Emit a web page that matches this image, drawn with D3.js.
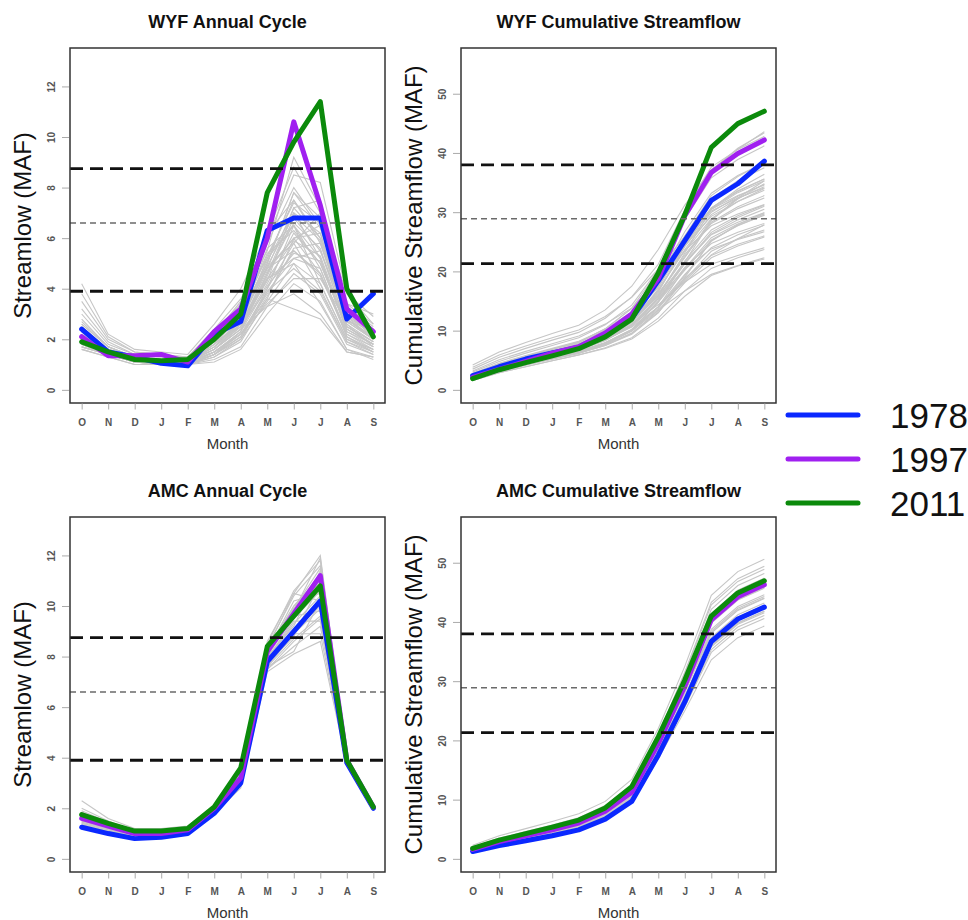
<!DOCTYPE html>
<html>
<head>
<meta charset="utf-8">
<script src="https://cdn.jsdelivr.net/npm/d3@7"></script>
<style>
  body { margin: 0; background: #fff; }
  svg { font-family: "Liberation Sans", Arial, Helvetica, sans-serif; }
</style>
</head>
<body>
<div id="chart"></div>
<script>

// month axis and legend
var months = ["O", "N", "D", "J", "F", "M", "A", "M", "J", "J", "A", "S"];
var years = ["1978", "1997", "2011"];
var yearColors = ["#0a28ff", "#a020f0", "#0b8a0b"];

// WYF monthly streamflow (MAF), highlighted years
var wyf1978 = [2.4, 1.5, 1.3, 1.05, 0.95, 2.2, 2.7, 6.3, 6.8, 6.8, 2.8, 3.8];
var wyf1997 = [2.1, 1.35, 1.35, 1.4, 1.1, 2.3, 3.2, 6.0, 10.6, 7.3, 3.2, 2.3];
var wyf2011 = [1.9, 1.5, 1.2, 1.15, 1.2, 2.0, 3.0, 7.8, 9.8, 11.4, 4.0, 2.1];

// WYF ensemble (grey traces)
var wyfEnsemble = [
  [4.2, 2.2, 1.6, 1.5, 1.4, 2.6, 4.0, 6.2, 7.5, 6.0, 3.4, 3.0],
  [3.5, 2.0, 1.5, 1.4, 1.3, 2.4, 3.6, 5.5, 9.2, 7.2, 3.0, 2.2],
  [3.0, 1.8, 1.4, 1.3, 1.3, 2.2, 3.3, 6.0, 8.5, 8.2, 3.8, 2.6],
  [2.8, 1.7, 1.3, 1.2, 1.2, 2.0, 3.0, 5.0, 7.8, 6.8, 3.2, 2.4],
  [2.5, 1.6, 1.3, 1.2, 1.2, 1.9, 2.8, 4.8, 7.2, 6.0, 2.8, 2.0],
  [2.2, 1.5, 1.2, 1.1, 1.1, 1.8, 2.6, 4.5, 6.8, 5.5, 2.6, 1.9],
  [2.0, 1.5, 1.2, 1.1, 1.1, 1.6, 2.4, 4.2, 6.2, 5.0, 2.4, 1.8],
  [1.8, 1.4, 1.1, 1.1, 1.1, 1.5, 2.2, 3.8, 5.5, 4.5, 2.2, 1.6],
  [1.7, 1.4, 1.1, 1.0, 1.0, 1.4, 2.0, 3.5, 5.0, 4.2, 2.0, 1.5],
  [1.6, 1.3, 1.0, 1.0, 1.0, 1.2, 1.7, 3.3, 4.6, 3.8, 1.8, 1.4],
  [1.6, 1.3, 1.0, 1.0, 1.0, 1.1, 1.6, 3.0, 4.2, 3.5, 1.6, 1.2],
  [2.4, 1.6, 1.3, 1.2, 1.2, 2.1, 3.1, 5.8, 8.0, 6.5, 3.0, 2.1],
  [2.1, 1.5, 1.2, 1.2, 1.1, 1.7, 2.7, 5.2, 7.5, 5.8, 2.7, 2.0],
  [1.9, 1.5, 1.2, 1.1, 1.1, 1.8, 2.9, 4.8, 6.0, 6.5, 3.4, 2.6],
  [2.6, 1.7, 1.3, 1.2, 1.2, 2.3, 3.4, 5.2, 6.5, 4.8, 2.2, 1.7],
  [2.3, 1.6, 1.2, 1.2, 1.1, 1.9, 2.5, 4.0, 5.8, 7.0, 3.8, 2.9],
  [1.8, 1.4, 1.1, 1.1, 1.0, 1.5, 2.3, 4.6, 7.0, 5.2, 2.4, 1.8],
  [2.0, 1.5, 1.2, 1.1, 1.1, 1.7, 2.8, 5.6, 6.5, 4.2, 2.0, 1.6],
  [3.2, 1.9, 1.4, 1.3, 1.3, 2.0, 2.7, 4.4, 5.2, 5.5, 2.9, 2.2],
  [1.7, 1.4, 1.1, 1.0, 1.0, 1.3, 1.9, 3.6, 6.0, 6.2, 2.6, 1.7],
  [2.2, 1.5, 1.2, 1.1, 1.1, 1.6, 2.4, 3.3, 3.8, 3.0, 1.5, 1.3],
  [1.9, 1.4, 1.1, 1.1, 1.0, 1.4, 2.1, 4.0, 6.5, 5.2, 2.3, 1.7],
  [2.7, 1.7, 1.3, 1.2, 1.2, 2.2, 3.5, 6.2, 8.8, 7.0, 3.1, 2.3],
  [2.0, 1.5, 1.2, 1.1, 1.1, 1.6, 2.5, 4.4, 5.0, 3.4, 1.6, 1.3],
  [2.3, 1.6, 1.2, 1.1, 1.1, 1.7, 2.6, 4.3, 7.2, 7.5, 3.3, 2.5],
  [1.8, 1.4, 1.1, 1.0, 1.0, 1.4, 2.3, 4.9, 5.8, 4.0, 1.9, 1.5],
  [2.5, 1.6, 1.3, 1.2, 1.1, 1.9, 3.0, 5.4, 6.3, 5.0, 2.5, 1.9],
  [2.0, 1.5, 1.2, 1.1, 1.1, 1.5, 2.2, 3.4, 4.4, 4.4, 2.7, 2.4],
  [3.8, 2.1, 1.5, 1.4, 1.3, 2.3, 3.2, 4.8, 5.5, 4.6, 2.3, 1.8],
  [2.1, 1.5, 1.2, 1.1, 1.1, 1.8, 2.7, 5.0, 7.8, 6.4, 2.9, 2.0],
  [1.8, 1.4, 1.1, 1.0, 1.0, 1.4, 2.2, 3.6, 3.2, 2.8, 1.5, 1.3],
  [2.2, 1.5, 1.2, 1.1, 1.1, 1.7, 2.5, 4.6, 6.6, 5.6, 2.5, 1.8],
  [1.9, 1.4, 1.2, 1.1, 1.1, 1.6, 2.6, 4.7, 6.0, 4.6, 2.1, 1.6],
  [2.4, 1.6, 1.3, 1.2, 1.1, 1.9, 2.9, 5.1, 7.0, 6.2, 2.8, 2.1],
  [2.0, 1.5, 1.2, 1.1, 1.1, 1.5, 2.3, 4.1, 5.4, 5.1, 2.4, 1.8],
  [1.7, 1.4, 1.1, 1.0, 1.0, 1.3, 2.0, 3.9, 5.2, 4.8, 2.1, 1.5],
  [2.6, 1.7, 1.3, 1.2, 1.2, 2.0, 3.0, 5.3, 7.4, 6.6, 3.0, 2.2],
  [2.1, 1.5, 1.2, 1.1, 1.1, 1.6, 2.4, 4.4, 5.9, 5.3, 2.5, 1.9],
  [1.8, 1.4, 1.1, 1.1, 1.0, 1.5, 2.2, 3.9, 4.8, 3.9, 1.9, 1.4],
  [2.3, 1.6, 1.2, 1.2, 1.1, 1.8, 2.7, 4.9, 6.9, 5.9, 2.7, 2.0],
  [1.9, 1.4, 1.1, 1.1, 1.0, 1.4, 2.1, 3.7, 5.6, 5.8, 2.8, 2.0]
];

// AMC monthly streamflow (MAF), highlighted years
var amc1978 = [1.25, 1.0, 0.8, 0.85, 1.0, 1.8, 3.0, 7.8, 9.0, 10.2, 3.8, 2.0];
var amc1997 = [1.6, 1.3, 1.0, 1.0, 1.15, 2.0, 3.2, 8.2, 9.7, 11.2, 3.9, 2.05];
var amc2011 = [1.75, 1.4, 1.1, 1.1, 1.2, 2.05, 3.6, 8.4, 9.6, 10.8, 3.9, 2.05];

// AMC ensemble (grey traces)
var amcEnsemble = [
  [2.3, 1.6, 1.2, 1.2, 1.3, 2.1, 3.7, 8.6, 10.5, 12.0, 4.0, 2.1],
  [2.0, 1.5, 1.1, 1.1, 1.25, 2.05, 3.5, 8.4, 10.4, 11.6, 3.95, 2.05],
  [1.8, 1.4, 1.05, 1.05, 1.2, 2.0, 3.4, 8.3, 10.0, 11.2, 3.9, 2.05],
  [1.6, 1.3, 1.0, 1.0, 1.15, 1.95, 3.3, 8.1, 9.6, 10.8, 3.9, 2.0],
  [1.5, 1.25, 0.95, 0.95, 1.1, 1.9, 3.2, 7.9, 9.3, 10.4, 3.85, 2.0],
  [1.4, 1.2, 0.9, 0.95, 1.1, 1.9, 3.1, 7.8, 9.0, 10.0, 3.85, 2.0],
  [1.3, 1.1, 0.9, 0.9, 1.05, 1.85, 3.0, 7.6, 8.7, 9.6, 3.8, 2.0],
  [1.25, 1.05, 0.85, 0.9, 1.0, 1.8, 2.9, 7.5, 8.4, 9.2, 3.8, 1.95],
  [1.2, 1.0, 0.85, 0.85, 1.0, 1.8, 2.8, 7.4, 8.1, 8.6, 3.75, 1.95],
  [1.9, 1.45, 1.1, 1.1, 1.2, 2.05, 3.6, 8.5, 10.6, 11.8, 4.0, 2.1],
  [1.7, 1.35, 1.05, 1.05, 1.2, 2.0, 3.45, 8.2, 9.9, 11.5, 3.95, 2.05],
  [1.6, 1.3, 1.0, 1.0, 1.15, 1.95, 3.3, 8.0, 9.2, 11.4, 3.9, 2.0],
  [1.55, 1.25, 1.0, 1.0, 1.15, 1.95, 3.25, 8.2, 10.2, 10.5, 3.9, 2.0],
  [1.45, 1.2, 0.95, 0.95, 1.1, 1.9, 3.15, 7.7, 8.8, 10.9, 3.85, 2.0],
  [1.35, 1.15, 0.9, 0.9, 1.05, 1.85, 3.05, 7.9, 9.4, 9.4, 3.85, 2.0],
  [1.65, 1.3, 1.0, 1.0, 1.15, 1.95, 3.35, 8.3, 10.5, 10.2, 3.9, 2.05],
  [1.4, 1.15, 0.9, 0.9, 1.05, 1.9, 3.1, 7.6, 8.9, 8.9, 3.8, 1.95],
  [1.85, 1.4, 1.05, 1.05, 1.2, 2.0, 3.5, 8.4, 9.8, 11.9, 4.0, 2.05],
  [1.5, 1.2, 0.95, 0.95, 1.1, 1.9, 3.2, 8.0, 9.6, 9.8, 3.85, 2.0],
  [1.3, 1.1, 0.9, 0.9, 1.05, 1.85, 2.95, 7.6, 8.2, 10.2, 3.8, 1.95],
  [1.45, 1.2, 0.95, 0.95, 1.1, 1.9, 3.2, 7.9, 9.5, 10.6, 3.85, 2.0],
  [1.7, 1.35, 1.05, 1.05, 1.15, 2.0, 3.4, 8.2, 9.9, 10.9, 3.9, 2.05],
  [1.35, 1.1, 0.9, 0.9, 1.05, 1.85, 3.0, 7.7, 8.9, 9.9, 3.8, 1.95],
  [1.55, 1.25, 1.0, 1.0, 1.15, 1.95, 3.3, 8.1, 9.7, 11.0, 3.9, 2.0],
  [1.25, 1.05, 0.85, 0.9, 1.0, 1.8, 2.9, 7.5, 8.6, 9.5, 3.8, 1.95],
  [1.6, 1.3, 1.0, 1.0, 1.15, 1.95, 3.35, 8.1, 10.0, 11.1, 3.9, 2.05]
];

// axis ticks and reference levels
var annualTicks = [0, 2, 4, 6, 8, 10, 12];
var cumulativeTicks = [0, 10, 20, 30, 40, 50];
var annualLevels = [3.9, 6.6, 8.75];
var cumulativeLevels = [21.3, 28.9, 38.0];


var width = 968;
var height = 920;

var svg = d3.select("#chart").append("svg")
    .attr("width", width)
    .attr("height", height);

function cumulative(v) { return Array.from(d3.cumsum(v)); }

var panels = [
    {title: "WYF Annual Cycle", ylab: "Streamlow (MAF)", left: 70, top: 48,
     ylim: [0, 13], ticks: annualTicks, levels: annualLevels,
     ensemble: wyfEnsemble, series: [wyf1978, wyf1997, wyf2011]},
    {title: "WYF Cumulative Streamflow", ylab: "Cumulative Streamflow (MAF)", left: 461, top: 48,
     ylim: [0, 55.5], ticks: cumulativeTicks, levels: cumulativeLevels,
     ensemble: wyfEnsemble.map(cumulative), series: [wyf1978, wyf1997, wyf2011].map(cumulative)},
    {title: "AMC Annual Cycle", ylab: "Streamlow (MAF)", left: 70, top: 517,
     ylim: [0, 13], ticks: annualTicks, levels: annualLevels,
     ensemble: amcEnsemble, series: [amc1978, amc1997, amc2011]},
    {title: "AMC Cumulative Streamflow", ylab: "Cumulative Streamflow (MAF)", left: 461, top: 517,
     ylim: [0, 55.5], ticks: cumulativeTicks, levels: cumulativeLevels,
     ensemble: amcEnsemble.map(cumulative), series: [amc1978, amc1997, amc2011].map(cumulative)}
];

var boxW = 315;
var boxH = 355;

panels.forEach(function (p) {
    var g = svg.append("g").attr("transform", "translate(" + p.left + "," + p.top + ")");

    // R style 4% axis extension
    var ext = (p.ylim[1] - p.ylim[0]) * 0.04;
    var xScale = d3.scaleLinear()
        .domain([-0.44, 11.44])
        .range([0, boxW]);
    var yScale = d3.scaleLinear()
        .domain([p.ylim[0] - ext, p.ylim[1] + ext])
        .range([boxH, 0]);

    var line = d3.line()
        .x(function (d, i) { return xScale(i); })
        .y(function (d) { return yScale(d); });

    g.selectAll("path.ens")
        .data(p.ensemble)
        .enter()
        .append("path")
        .attr("class", "ens")
        .attr("d", line)
        .attr("fill", "none")
        .attr("stroke", "#c6c6c6")
        .attr("stroke-width", 1.1);

    g.selectAll("path.yr")
        .data(p.series)
        .enter()
        .append("path")
        .attr("class", "yr")
        .attr("d", line)
        .attr("fill", "none")
        .attr("stroke", function (d, i) { return yearColors[i]; })
        .attr("stroke-width", 5)
        .attr("stroke-linejoin", "round")
        .attr("stroke-linecap", "round");

    // reference levels: outer two heavy dashes, middle light dash
    g.selectAll("line.level")
        .data(p.levels)
        .enter()
        .append("line")
        .attr("class", "level")
        .attr("x1", 0)
        .attr("x2", boxW)
        .attr("y1", function (d) { return yScale(d); })
        .attr("y2", function (d) { return yScale(d); })
        .attr("stroke", function (d, i) { return i === 1 ? "#6a6a6a" : "#111"; })
        .attr("stroke-width", function (d, i) { return i === 1 ? 1.6 : 2.8; })
        .attr("stroke-dasharray", function (d, i) { return i === 1 ? "6,4" : "13,7"; });

    g.append("rect")
        .attr("width", boxW)
        .attr("height", boxH)
        .attr("fill", "none")
        .attr("stroke", "#333")
        .attr("stroke-width", 1.5);

    var xAxis = d3.axisBottom(xScale)
        .tickValues(d3.range(months.length))
        .tickFormat(function (i) { return months[i]; })
        .tickSize(6)
        .tickPadding(9);

    var gx = g.append("g")
        .attr("transform", "translate(0," + (boxH + 0.5) + ")")
        .call(xAxis);
    gx.select(".domain").remove();
    gx.selectAll("line").attr("stroke", "#aaa");
    gx.selectAll("text")
        .attr("fill", "#555")
        .style("font-size", "10px")
        .style("font-weight", "bold")
        .style("font-family", "'Liberation Sans', Arial, sans-serif");

    var yAxis = d3.axisLeft(yScale)
        .tickValues(p.ticks)
        .tickSize(7);

    var gy = g.append("g")
        .attr("transform", "translate(-1,0)")
        .call(yAxis);
    gy.select(".domain").remove();
    gy.selectAll("line").attr("stroke", "#aaa");
    gy.selectAll("text")
        .attr("x", null)
        .attr("dy", null)
        .attr("transform", "translate(-14,0) rotate(-90)")
        .attr("text-anchor", "middle")
        .attr("fill", "#555")
        .style("font-size", "10px")
        .style("font-weight", "bold")
        .style("font-family", "'Liberation Sans', Arial, sans-serif");

    g.append("text")
        .attr("x", boxW / 2)
        .attr("y", -20)
        .attr("text-anchor", "middle")
        .style("font-size", "18px")
        .style("font-weight", "bold")
        .attr("fill", "#111")
        .text(p.title);

    g.append("text")
        .attr("x", boxW / 2)
        .attr("y", boxH + 46)
        .attr("text-anchor", "middle")
        .style("font-size", "15px")
        .attr("fill", "#333")
        .text("Month");

    g.append("text")
        .attr("transform", "translate(-39," + (boxH / 2) + ") rotate(-90)")
        .attr("text-anchor", "middle")
        .style("font-size", "24px")
        .attr("fill", "#111")
        .text(p.ylab);
});

// legend
var legend = svg.append("g").attr("transform", "translate(788,415)");
var entries = legend.selectAll("g")
    .data(years)
    .enter()
    .append("g")
    .attr("transform", function (d, i) { return "translate(0," + (i * 44) + ")"; });

entries.append("line")
    .attr("x1", 0)
    .attr("x2", 70)
    .attr("stroke", function (d, i) { return yearColors[i]; })
    .attr("stroke-width", 5)
    .attr("stroke-linecap", "round");

entries.append("text")
    .attr("x", 102)
    .attr("y", 13)
    .style("font-size", "35px")
    .attr("fill", "#111")
    .text(function (d) { return d; });

</script>
</body>
</html>
